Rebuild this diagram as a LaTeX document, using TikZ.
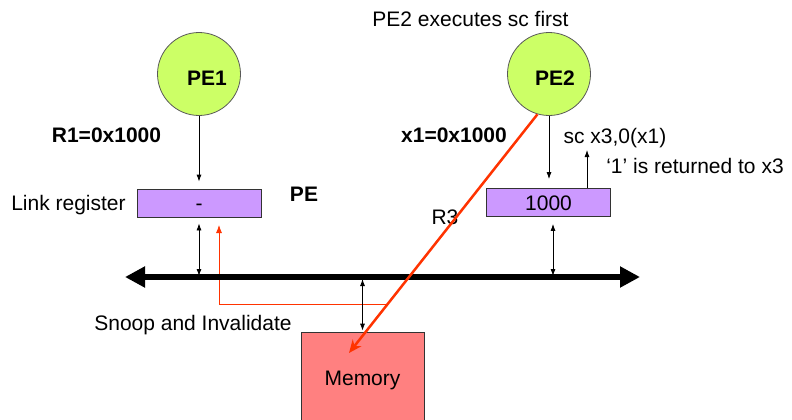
\documentclass[tikz,border=0pt]{standalone}
\usepackage{fontspec}
\setmainfont{Liberation Sans}
\usetikzlibrary{arrows.meta}
\definecolor{pegreen}{HTML}{CCFF66}
\definecolor{reglav}{HTML}{CC99FF}
\definecolor{memred}{HTML}{FF8080}
\definecolor{sigred}{HTML}{FF3300}
\begin{document}
\begin{tikzpicture}[x=1pt,y=-1pt,
  every node/.style={font=\fontsize{21}{25}\selectfont, inner sep=0pt,
                     text height=15pt, text depth=0pt},
  bold/.style={font=\fontsize{21}{25}\selectfont\bfseries},
  pe/.style={circle, draw=black!65, line width=0.8pt, fill=pegreen, minimum size=83pt},
  reg/.style={rectangle, draw=black!80, line width=0.8pt, fill=reglav,
              minimum width=124pt, minimum height=28pt},
  memory/.style={rectangle, draw=black!80, line width=0.8pt, fill=memred,
                 minimum width=123pt, minimum height=92pt},
  ptr/.style={-{Latex[length=7pt,width=5pt]}, line width=0.8pt},
  dptr/.style={{Latex[length=7pt,width=5pt]}-{Latex[length=7pt,width=5pt]}, line width=0.8pt},
  bus/.style={line width=6pt,
              {Triangle[length=20pt,width=20pt]}-{Triangle[length=20pt,width=20pt]}},
  snoopline/.style={draw=sigred, line width=0.8pt, -{Latex[length=8pt,width=6pt]}},
  r3line/.style={draw=sigred, line width=2.5pt, -{Stealth[length=13pt,width=11pt]}}
]
\clip (0,0) rectangle (792,420);
\fill[white] (0,0) rectangle (792,420);

% processing elements
\node[pe, label={[bold, xshift=8pt, yshift=-4pt]center:PE1}] (pe1) at (199,74) {};
\node[pe, label={[bold, xshift=6pt, yshift=-4pt]center:PE2}] (pe2) at (549,74) {};

% registers and memory
\node[reg] (lr) at (199,203) {-};
\node[reg] (r2) at (548.5,202.5) {1000};
\node[memory] (mem) at (362.5,378) {Memory};

% text labels
\node (title) at (470.5,19) {PE2 executes sc first};
\node[bold] (r1) at (106.5,135) {R1=0x1000};
\node[bold] (x1) at (454,135) {x1=0x1000};
\node (lrname) at (68.5,203) {Link register};
\node[bold] (pename) at (304,194) {PE};
\node (sc) at (615,136) {sc x3,0(x1)};
\node (ret) at (695,166) {‘1’ is returned to x3};
\node (r3) at (445,217) {R3};
\node (snooplbl) at (193,323) {Snoop and Invalidate};

% free ends
\coordinate (busL) at (125,277);
\coordinate (busR) at (640,277);
\coordinate (scret) at (587,150);
\coordinate (snoopsrc) at (388,304);
\coordinate (snoopdst) at (219,225);
\coordinate (r3end) at (349,353);

% snoop / invalidate path (under the bus)
\draw[snoopline] (snoopsrc) -| (snoopdst);

% bus
\draw[bus] (busL) -- (busR);

% PE to register
\draw[ptr, shorten >=7pt] (pe1.south) -- (lr.north);
\draw[ptr, shorten >=9pt] (pe2.south) -- (pe2.south |- r2.north);
\draw[ptr] (r2.north -| scret) -- (scret);

% register / memory to bus
\draw[dptr, shorten <=6pt, shorten >=1pt] (lr.south) -- (lr.south |- busL);
\draw[dptr, shorten <=7pt, shorten >=1pt] ([xshift=4.5pt]r2.south) -- ([xshift=4.5pt]r2.south |- busL);
\draw[dptr, shorten <=1pt, shorten >=2pt] (mem.north) -- (mem.north |- busL);

% store-conditional write to memory
\draw[r3line] (pe2.254) -- (r3end);
\end{tikzpicture}
\end{document}
